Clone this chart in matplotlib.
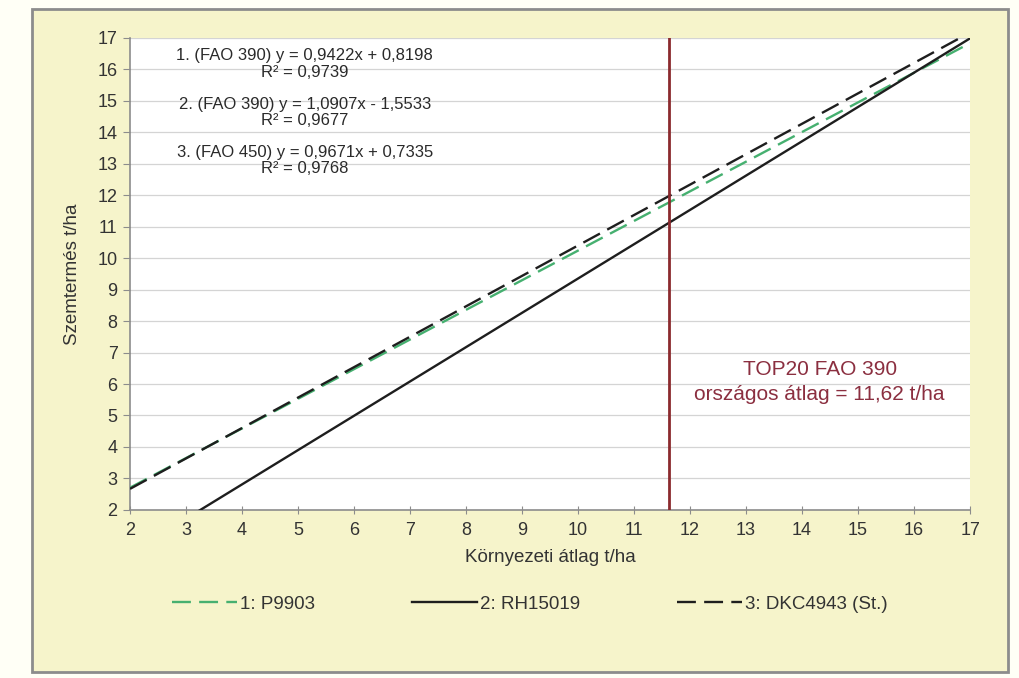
import numpy as np
import matplotlib.pyplot as plt
from matplotlib.patches import Rectangle

plt.rcParams['font.family'] = ['Liberation Sans', 'DejaVu Sans']

# trendlines: y = slope * x + intercept
names = ["1: P9903", "2: RH15019", "3: DKC4943 (St.)"]
slopes = [0.9422, 1.0907, 0.9671]
intercepts = [0.8198, -1.5533, 0.7335]
eq_labels = ["1. (FAO 390) y = 0,9422x + 0,8198",
             "2. (FAO 390) y = 1,0907x - 1,5533",
             "3. (FAO 450) y = 0,9671x + 0,7335"]
r2_labels = ["R² = 0,9739", "R² = 0,9677", "R² = 0,9768"]
x_range = [2, 17]
orszagos_atlag = 11.62

colors = ["#46b070", "#1e1e1e", "#1e1e1e"]
styles = [(0, (8, 3.5)), "-", (0, (8, 3.5))]

fig = plt.figure(figsize=(10.19, 6.78), dpi=100)
fig.patch.set_facecolor("#fffff6")
fig.patches.append(Rectangle((32 / 1019, 1 - 672 / 678), 976 / 1019, 663 / 678,
                             transform=fig.transFigure, facecolor="#f6f4cb",
                             edgecolor="#8c8c8c", lw=2, zorder=-1))

ax = fig.add_axes([0.1276, 0.248, 0.8244, 0.696])
ax.set_facecolor("white")

xs = np.array(x_range, dtype=float)
for i in range(3):
    ax.plot(xs, slopes[i] * xs + intercepts[i], color=colors[i],
            linestyle=styles[i], lw=1.7, label=names[i], zorder=3)

ax.axvline(orszagos_atlag, color="#8b2a2e", lw=2, zorder=4)
ax.text(0.821, 0.297, "TOP20 FAO 390", transform=ax.transAxes,
        ha="center", va="center", fontsize=15, color="#8b2f40")
ax.text(0.821, 0.244, "országos átlag = 11,62 t/ha", transform=ax.transAxes,
        ha="center", va="center", fontsize=15, color="#8b2f40")

# equation block, two rows per trendline
eq_y = [0.962, 0.860, 0.758]
for eq, r2, yy in zip(eq_labels, r2_labels, eq_y):
    ax.text(0.208, yy, eq, transform=ax.transAxes, ha="center", va="center",
            fontsize=12, color="#2a2a2a", zorder=5)
    ax.text(0.208, yy - 0.035, r2, transform=ax.transAxes, ha="center",
            va="center", fontsize=12, color="#2a2a2a", zorder=5)

ax.set_xlim(2, 17)
ax.set_ylim(2, 17)
ax.set_xticks(range(2, 18))
ax.set_yticks(range(2, 18))
ax.grid(axis="y", color="#d4d4d4", lw=0.9)
ax.set_axisbelow(True)
for s in ["top", "right"]:
    ax.spines[s].set_visible(False)
for s in ["left", "bottom"]:
    ax.spines[s].set_color("#8c8c8c")
    ax.spines[s].set_linewidth(1.2)
ax.tick_params(axis="y", direction="out", length=5, color="#8c8c8c",
               labelsize=13, labelcolor="#333333", pad=4)
ax.tick_params(axis="x", direction="inout", length=6, color="#8c8c8c",
               labelsize=13, labelcolor="#333333", pad=6)

ax.set_xlabel("Környezeti átlag t/ha", fontsize=13.5, color="#333333", labelpad=7)
ax.set_ylabel("Szemtermés t/ha", fontsize=13.5, color="#333333", labelpad=12)

fig.legend(loc="center", bbox_to_anchor=(0.52, 0.109), ncol=3, frameon=False,
           handlelength=3.45, columnspacing=5.2, handletextpad=0.15,
           fontsize=13.5, labelcolor="#333333")

fig.savefig("out.png", dpi=100)
